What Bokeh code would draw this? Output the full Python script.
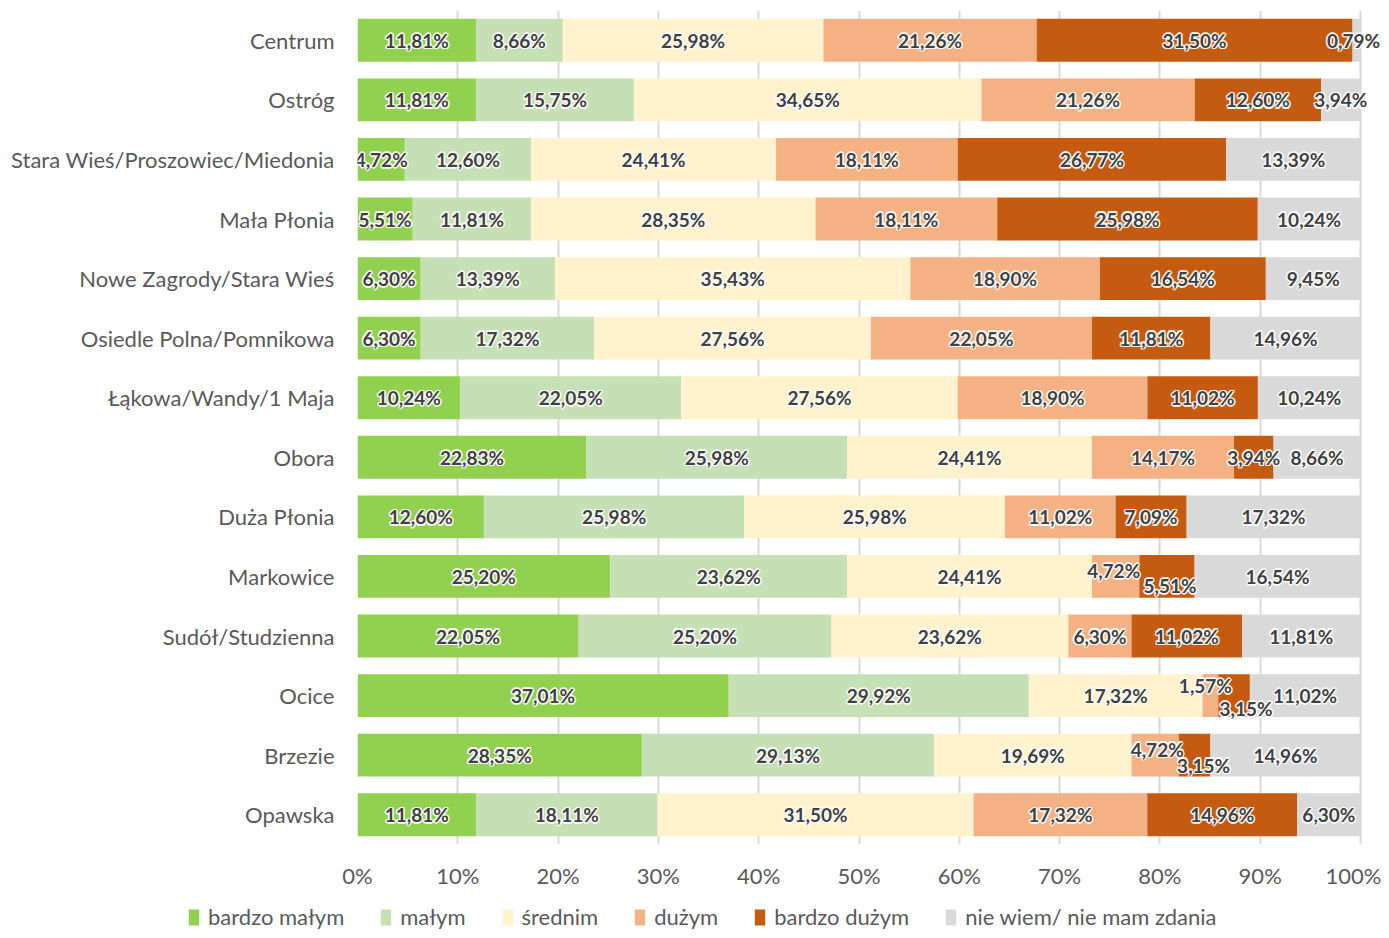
from bokeh.plotting import figure
from bokeh.layouts import column, row
from bokeh.models import (ColumnDataSource, FactorRange, Range1d, FixedTicker,
                          PrintfTickFormatter, Legend, LegendItem)
from bokeh.core.properties import value
from bokeh.embed import file_html
from bokeh.resources import INLINE
import numpy as np

categories = ["Centrum", "Ostróg", "Stara Wieś/Proszowiec/Miedonia", "Mała Płonia",
              "Nowe Zagrody/Stara Wieś", "Osiedle Polna/Pomnikowa", "Łąkowa/Wandy/1 Maja",
              "Obora", "Duża Płonia", "Markowice", "Sudół/Studzienna", "Ocice", "Brzezie", "Opawska"]
series_names = ["bardzo małym", "małym", "średnim", "dużym", "bardzo dużym", "nie wiem/ nie mam zdania"]

bardzo_malym = [11.81, 11.81, 4.72, 5.51, 6.30, 6.30, 10.24, 22.83, 12.60, 25.20, 22.05, 37.01, 28.35, 11.81]
malym = [8.66, 15.75, 12.60, 11.81, 13.39, 17.32, 22.05, 25.98, 25.98, 23.62, 25.20, 29.92, 29.13, 18.11]
srednim = [25.98, 34.65, 24.41, 28.35, 35.43, 27.56, 27.56, 24.41, 25.98, 24.41, 23.62, 17.32, 19.69, 31.50]
duzym = [21.26, 21.26, 18.11, 18.11, 18.90, 22.05, 18.90, 14.17, 11.02, 4.72, 6.30, 1.57, 4.72, 17.32]
bardzo_duzym = [31.50, 12.60, 26.77, 25.98, 16.54, 11.81, 11.02, 3.94, 7.09, 5.51, 11.02, 3.15, 3.15, 14.96]
nie_wiem = [0.79, 3.94, 13.39, 10.24, 9.45, 14.96, 10.24, 8.66, 17.32, 16.54, 11.81, 11.02, 14.96, 6.30]

x_ticks = [0, 10, 20, 30, 40, 50, 60, 70, 80, 90, 100]

colors = ["#92D050", "#C5E0B4", "#FFF2CC", "#F4B183", "#C55A11", "#D9D9D9"]
keys = ["s0", "s1", "s2", "s3", "s4", "s5"]
all_series = [bardzo_malym, malym, srednim, duzym, bardzo_duzym, nie_wiem]

data = {"cat": categories}
for k, s in zip(keys, all_series):
    data[k] = s
source = ColumnDataSource(data)

FONT = "Lato"
W = 1381
H1, H2 = 891, 39
LEFT, TOP, BOTTOM = 357, 10, 848
PX_PER_100 = 1003.0
x_end = 100.0 * (W - LEFT) / PX_PER_100   # extra room on the right so edge labels aren't clipped

p = figure(width=W, height=H1, output_backend="svg", toolbar_location=None,
           y_range=FactorRange(*categories[::-1]), x_range=Range1d(0, x_end),
           min_border_left=LEFT, min_border_right=0, min_border_top=TOP,
           min_border_bottom=H1 - BOTTOM)
p.outline_line_color = None
p.background_fill_color = "white"

renderers = p.hbar_stack(keys, y="cat", height=0.72, color=colors, source=source, line_color=None)

# axes
p.xaxis.ticker = FixedTicker(ticks=x_ticks)
p.xaxis.formatter = PrintfTickFormatter(format="%d%%")
p.xaxis.axis_line_color = None
p.xaxis.major_tick_line_color = None
p.xaxis.major_tick_out = 0
p.xaxis.major_tick_in = 0
p.xaxis.minor_tick_line_color = None
p.xaxis.major_label_standoff = 17
p.xaxis.major_label_text_font = FONT
p.xaxis.major_label_text_font_size = "22px"
p.xaxis.major_label_text_color = "#595959"

p.yaxis.axis_line_color = None
p.yaxis.major_tick_line_color = None
p.yaxis.major_tick_out = 0
p.yaxis.major_tick_in = 0
p.yaxis.minor_tick_line_color = None
p.yaxis.major_label_standoff = 23
p.yaxis.major_label_text_font = FONT
p.yaxis.major_label_text_font_size = "22px"
p.yaxis.major_label_text_color = "#595959"

p.ygrid.grid_line_color = None
p.xgrid.grid_line_color = "#D9D9D9"
p.xgrid.grid_line_width = 2

# data labels
lx, ly, lt, xo, yo = [], [], [], [], []
adjust = {("Markowice", 3): (-2, -6), ("Markowice", 4): (3, 9),
          ("Ocice", 3): (-5, -10), ("Ocice", 4): (12, 13),
          ("Brzezie", 3): (2, -6), ("Brzezie", 4): (9, 10),
          ("Centrum", 5): (-3, 0)}
arr = np.array(all_series)
cum = np.cumsum(arr, axis=0)
for i, c in enumerate(categories):
    for j in range(len(keys)):
        v = arr[j, i]
        left = cum[j, i] - v
        lx.append(left + v / 2)
        ly.append(c)
        lt.append(f"{v:.2f}".replace(".", ",") + "%")
        dx, dy = adjust.get((c, j), (0, 0))
        xo.append(dx)
        yo.append(dy)
lsrc = ColumnDataSource(dict(x=lx, y=ly, text=lt, xo=xo, yo=yo))

# soft white halo
for ddx, ddy in [(-1.6, 0), (1.6, 0), (0, -1.6), (0, 1.6), (-1.2, -1.2), (1.2, 1.2), (-1.2, 1.2), (1.2, -1.2)]:
    hs = ColumnDataSource(dict(x=lx, y=ly, text=lt, xo=[a + ddx for a in xo], yo=[b + ddy for b in yo]))
    p.text(x="x", y="y", text="text", x_offset="xo", y_offset="yo", source=hs,
           text_font=value(FONT), text_font_style="bold", text_font_size="19px",
           text_color="white", text_alpha=0.8, text_align="center", text_baseline="middle")
p.text(x="x", y="y", text="text", x_offset="xo", y_offset="yo", source=lsrc,
       text_font=value(FONT), text_font_style="bold", text_font_size="19px",
       text_color="#404040", text_align="center", text_baseline="middle")

# legend strip
p2 = figure(width=W, height=H2, output_backend="svg", toolbar_location=None,
            x_range=Range1d(0, 1), y_range=Range1d(0, 1), x_axis_type=None, y_axis_type=None,
            min_border=0)
p2.outline_line_color = None
p2.grid.grid_line_color = None
leg_renderers = []
for c in colors:
    leg_renderers.append(p2.rect(x=[-5], y=[-5], width=0.01, height=0.01, fill_color=c, line_color=None))

legend = Legend(items=[LegendItem(label=n, renderers=[r]) for n, r in zip(series_names, leg_renderers)],
                orientation="horizontal", location=(187, 0),
                label_text_font=FONT, label_text_font_size="22px", label_text_color="#595959",
                glyph_width=13, glyph_height=20, label_standoff=8, spacing=35,
                padding=0, margin=0, border_line_color=None, background_fill_alpha=0)
p2.add_layout(legend, "center")

layout = column(p, row(p2), spacing=0)
open("out.html", "w").write(file_html(layout, INLINE))
